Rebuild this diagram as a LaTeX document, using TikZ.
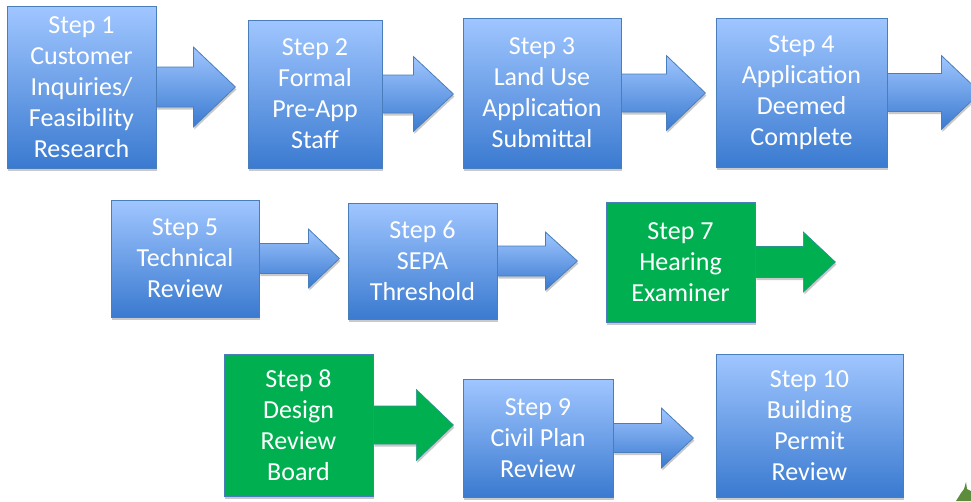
\documentclass[tikz,border=0pt]{standalone}
\usepackage{fontspec}
\setmainfont{Carlito}
\usetikzlibrary{calc,shadows,backgrounds}

\definecolor{steptop}{RGB}{160,198,255}
\definecolor{stepbottom}{RGB}{58,122,208}
\definecolor{stepline}{RGB}{74,126,187}
\definecolor{stepgreen}{RGB}{0,176,80}
\definecolor{leafgreen}{RGB}{92,140,60}

\tikzset{
    stepshadow/.style={drop shadow={shadow xshift=1pt,shadow yshift=-2.5pt,opacity=0.3,fill=black!70}},
    boxtext/.style={text=white,align=center,inner sep=0pt,font=\fontsize{26}{31}\selectfont},
    stepbox/.style={boxtext,draw=stepline,line width=0.8pt,top color=steptop,bottom color=stepbottom,stepshadow},
    greenbox/.style={boxtext,draw=stepline,line width=0.8pt,fill=stepgreen,stepshadow},
    bluearrow/.style={draw=stepline,line width=0.8pt,top color=steptop,bottom color=stepbottom,stepshadow},
    greenarrow/.style={draw=stepline!60!stepgreen,line width=0.6pt,fill=stepgreen,stepshadow}
}

% block arrow out of a box: node, shaft half height, head base, head half height, tip
\newcommand{\steparrow}[6][bluearrow]{%
    \draw[#1] ($(#2.east)+(0,-#3)$) -- ($(#2.east)+(#4,-#3)$) -- ($(#2.east)+(#4,-#5)$)
        -- ($(#2.east)+(#6,0)$) -- ($(#2.east)+(#4,#5)$) -- ($(#2.east)+(#4,#3)$)
        -- ($(#2.east)+(0,#3)$) -- cycle;}

\begin{document}
\begin{tikzpicture}[x=1pt,y=-1pt]
    \useasboundingbox (0,0) rectangle (971,501);

    % first row
    \node[stepbox,minimum width=149pt,minimum height=162pt] (s1) at (81.5,87) {Step 1\\Customer\\Inquiries/\\Feasibility\\Research};
    \node[stepbox,minimum width=134pt,minimum height=148pt] (s2) at (315,94) {Step 2\\Formal\\Pre-App\\Staff};
    \node[stepbox,minimum width=158pt,minimum height=150pt] (s3) at (542,93) {Step 3\\Land Use\\Application\\Submittal};
    \node[stepbox,minimum width=171pt,minimum height=149pt] (s4) at (801.5,92.5) {Step 4\\Application\\Deemed\\Complete};

    % second row
    \node[stepbox,minimum width=148pt,minimum height=117pt] (s5) at (185,258.5) {Step 5\\Technical\\Review};
    \node[stepbox,minimum width=149pt,minimum height=116pt] (s6) at (422.5,261) {Step 6\\SEPA\\Threshold};
    \node[greenbox,minimum width=149pt,minimum height=120pt] (s7) at (680.5,262) {Step 7\\Hearing\\Examiner};

    % third row
    \node[greenbox,minimum width=149pt,minimum height=142pt] (s8) at (298.5,425) {Step 8\\Design\\Review\\Board};
    \node[stepbox,minimum width=150pt,minimum height=118pt] (s9) at (538,438) {Step 9\\Civil Plan\\Review};
    \node[stepbox,minimum width=187pt,minimum height=143pt] (s10) at (809.5,425.5) {Step 10\\Building\\Permit\\Review};

    \begin{pgfonlayer}{background}
        \steparrow{s1}{20}{37}{40}{79}
        \steparrow{s2}{19}{31}{37.5}{71}
        \steparrow{s3}{19}{45}{37.5}{84}
        \steparrow{s4}{19}{54}{37}{93}
        \steparrow{s5}{15}{49}{29.5}{80}
        \steparrow{s6}{15}{48}{29}{80}
        \steparrow[greenarrow]{s7}{15.5}{48}{30}{80}
        \steparrow[greenarrow]{s8}{19}{43}{35.5}{80}
        \steparrow{s9}{14.5}{48}{30}{80}
    \end{pgfonlayer}

    % bit of a tree in the corner
    \fill[leafgreen] (956,501) -- (961,493) -- (964,489) -- (966,482) -- (967,489) -- (971,491) -- (971,501) -- cycle;
\end{tikzpicture}
\end{document}
